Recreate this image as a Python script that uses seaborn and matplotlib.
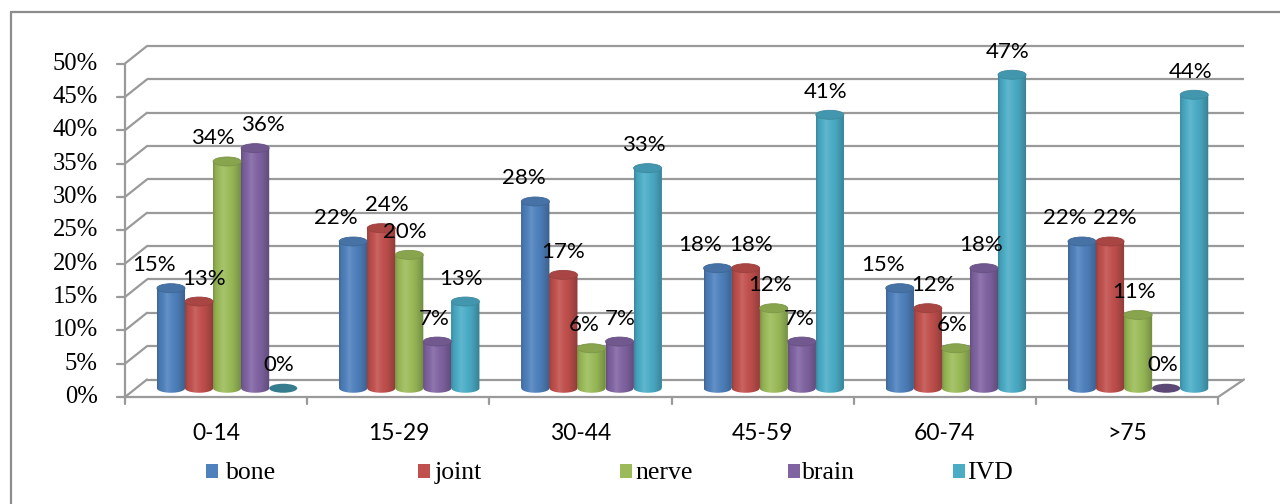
import numpy as np
import pandas as pd
import matplotlib
matplotlib.use("Agg")
import matplotlib.pyplot as plt
import seaborn as sns
from matplotlib.patches import Ellipse, PathPatch, Rectangle
from matplotlib.path import Path
from matplotlib.lines import Line2D
from matplotlib.colors import to_rgb

# ---- data -------------------------------------------------------------
age_groups = ["0-14", "15-29", "30-44", "45-59", "60-74", ">75"]
sites = ["bone", "joint", "nerve", "brain", "IVD"]
bone = [15, 22, 28, 18, 15, 22]
joint = [13, 24, 17, 18, 12, 22]
nerve = [34, 20, 6, 12, 6, 11]
brain = [36, 7, 7, 7, 18, 0]
ivd = [0, 13, 33, 41, 47, 44]
y_ticks = list(range(0, 51, 5))

series = [bone, joint, nerve, brain, ivd]
colors = ["#4F81BD", "#C0504D", "#9BBB59", "#8064A2", "#4BACC6"]

df = pd.DataFrame(
    [(g, s, v) for s, vals in zip(sites, series) for g, v in zip(age_groups, vals)],
    columns=["age", "site", "pct"],
)

sns.set_style("white")
plt.rcParams["font.family"] = ["Lato", "DejaVu Sans"]

# ---- geometry (pixels) -------------------------------------------------
W, H = 1280, 504
PX_X = 182.2          # pixels per category
PX_Y = 6.67           # pixels per percent
X0 = 227.1            # pixel x of first group centre
Y0 = 388.25           # pixel y of bar baseline
AX_L, AX_R, AX_T, AX_B = 100, 1260, 30, 410

def px_to_x(px):
    return (px - X0) / PX_X

def px_to_y(py):
    return (Y0 - py) / PX_Y

DX = 22 / PX_X        # depth offset in x data units
DY = 17.5 / PX_Y      # depth offset in y data units

fig = plt.figure(figsize=(W / 100, H / 100), dpi=100)
ax = fig.add_axes([AX_L / W, (H - AX_B) / H, (AX_R - AX_L) / W, (AX_B - AX_T) / H])

sns.barplot(data=df, x="age", y="pct", hue="site", hue_order=sites,
            order=age_groups, palette=colors, width=0.77, saturation=1,
            legend=False, ax=ax, linewidth=0, errorbar=None, zorder=2)

xlim = (px_to_x(AX_L), px_to_x(AX_R))
ylim = (px_to_y(AX_B), px_to_y(AX_T))

grid_col = "#9a9a9a"
lw = 1.6

# back wall gridlines and side-wall diagonals
for v in y_ticks:
    ax.plot([-0.5 + DX / 2, px_to_x(1244)], [v + DY / 2, v + DY / 2],
            color=grid_col, lw=lw, zorder=0.5, solid_capstyle="butt")
    ax.plot([-0.5 - DX / 2, -0.5 + DX / 2], [v - DY / 2, v + DY / 2],
            color=grid_col, lw=lw, zorder=0.5)
# floor right edge
ax.plot([5.5 - DX / 2, px_to_x(1244)], [-DY / 2, DY / 2], color=grid_col, lw=lw, zorder=0.5)
# front value axis with ticks
ax.plot([-0.5 - DX / 2] * 2, [-DY / 2, 50 - DY / 2], color=grid_col, lw=lw, zorder=3, clip_on=False)
tick_len_x = 8 / PX_X
for v in y_ticks:
    ax.plot([-0.5 - DX / 2 - tick_len_x, -0.5 - DX / 2], [v - DY / 2] * 2,
            color=grid_col, lw=lw, zorder=3, clip_on=False)
    ax.text(px_to_x(98), v - DY / 2, f"{v}%", ha="right", va="center",
            fontsize=17.7, family="Liberation Serif", color="#000000", clip_on=False)
# front category axis with ticks
ax.plot([-0.5 - DX / 2, 5.5 - DX / 2], [-DY / 2] * 2, color=grid_col, lw=lw, zorder=3, clip_on=False)
tick_len_y = 7 / PX_Y
for i in range(len(age_groups) + 1):
    ax.plot([i - 0.5 - DX / 2] * 2, [-DY / 2, -DY / 2 - tick_len_y],
            color=grid_col, lw=lw, zorder=3, clip_on=False)
for i, g in enumerate(age_groups):
    ax.text(i - DX / 2, px_to_y(433), g, ha="center", va="center",
            fontsize=16.5, color="#000000", clip_on=False)

# ---- cylinder shading ---------------------------------------------------
t = np.linspace(0, 1, 96)
shade = np.interp(t, [0, 0.08, 0.35, 0.7, 0.92, 1.0], [0.78, 0.92, 1.08, 0.95, 0.8, 0.72])

def shaded(rgb, f):
    rgb = np.array(rgb)
    if f <= 1:
        return rgb * f
    return rgb + (1 - rgb) * (f - 1) * 1.5

ELL = 9 / PX_Y
label_nudge_px = [-12, 0, -4, -3, -4]
LABEL_LIFT = 3.45

# label anchors per group, in pixels: [x, y, width]
groups = [[] for _ in age_groups]

for k, (container, col, vals) in enumerate(zip(ax.containers, colors, series)):
    base = to_rgb(col)
    grad = np.array([[shaded(base, f) for f in shade]])
    for gi, (bar, val) in enumerate(zip(container, vals)):
        x, w, h = bar.get_x(), bar.get_width(), bar.get_height()
        cx = x + w / 2
        if h > 0:
            th = np.linspace(np.pi, 2 * np.pi, 40)
            verts = [(cx + w / 2 * np.cos(a), ELL / 2 * np.sin(a)) for a in th]
            verts += [(x + w, h), (x, h), verts[0]]
            codes = [Path.MOVETO] + [Path.LINETO] * (len(verts) - 2) + [Path.CLOSEPOLY]
            clip = PathPatch(Path(verts, codes), facecolor="none", edgecolor="none",
                             transform=ax.transData)
            ax.add_patch(clip)
            im = ax.imshow(grad, extent=[x, x + w, -ELL / 2, h], aspect="auto",
                           interpolation="bilinear", zorder=2.1)
            im.set_clip_path(clip)
            ax.add_patch(Ellipse((cx, h), w, ELL, facecolor=shaded(base, 0.88),
                                 edgecolor=shaded(base, 0.8), lw=0.6, zorder=2.2))
        else:
            ax.add_patch(Ellipse((cx, 0), w, ELL, facecolor=shaded(base, 0.72),
                                 edgecolor="none", zorder=2.2))
        text = f"{val}%"
        groups[gi].append([X0 + cx * PX_X + label_nudge_px[k],
                           Y0 - (val + LABEL_LIFT) * PX_Y,
                           14.5 * len(text), text])

# spread apart neighbouring labels that would collide
PAD = 7
for labels in groups:
    for _ in range(3):
        for a, b in zip(labels[:-1], labels[1:]):
            if abs(a[1] - b[1]) < 24:
                need = (a[2] + b[2]) / 2 + PAD
                gap = b[0] - a[0]
                if gap < need:
                    shift = (need - gap) / 2
                    a[0] -= shift
                    b[0] += shift
    for lx, ly, _, text in labels:
        ax.text(px_to_x(lx), px_to_y(ly), text, ha="center", va="center",
                fontsize=16, color="#000000", zorder=5)

ax.set_xlim(*xlim)
ax.set_ylim(*ylim)
ax.axis("off")

# ---- legend -------------------------------------------------------------
leg_marker_x = [206, 418, 620, 788, 953]
leg_text_x = [226, 435, 635, 802, 967]
for mx, tx, col, name in zip(leg_marker_x, leg_text_x, colors, sites):
    fig.patches.append(Rectangle((mx / W, (H - 478) / H), 12 / W, 14 / H,
                                 transform=fig.transFigure, facecolor=col,
                                 edgecolor="none"))
    fig.text(tx / W, (H - 479) / H, name, ha="left", va="baseline",
             fontsize=18.5, family="Liberation Serif", color="#000000")

# ---- chart border -------------------------------------------------------
fig.add_artist(Line2D([11 / W, 11 / W], [0, (H - 12) / H], color="#8c8c8c", lw=1.6,
                      transform=fig.transFigure))
fig.add_artist(Line2D([11 / W, 1], [(H - 12) / H, (H - 12) / H], color="#8c8c8c", lw=1.6,
                      transform=fig.transFigure))

fig.savefig("out.png", dpi=100)
